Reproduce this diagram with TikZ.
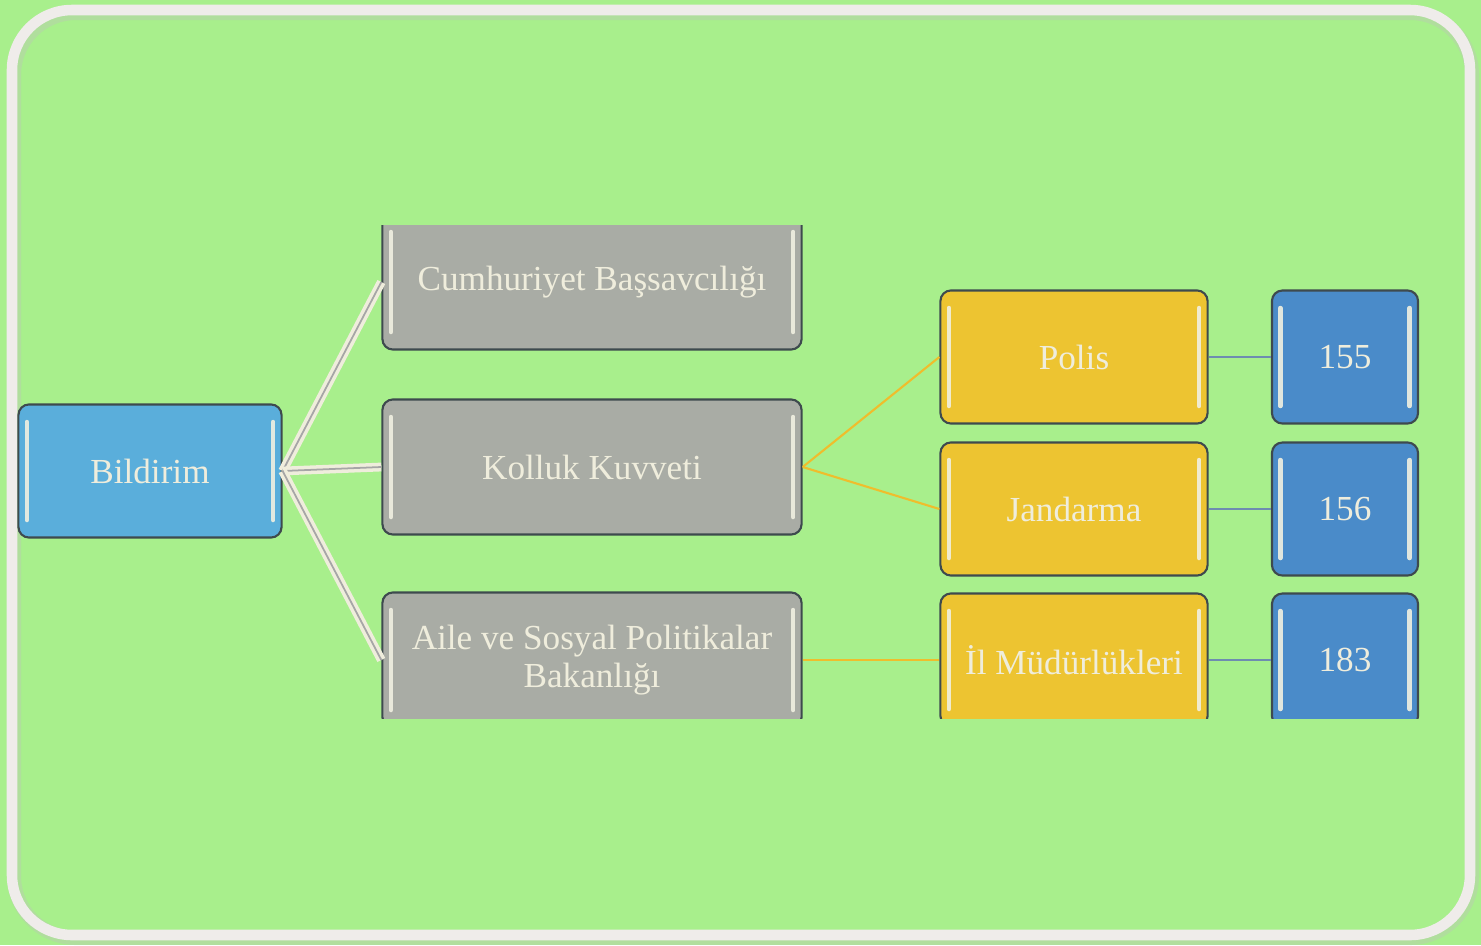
\documentclass[tikz,border=0pt]{standalone}
\usepackage{fontspec}
\setmainfont{Liberation Serif}
\definecolor{bgreen}{HTML}{A8EF8C}
\definecolor{frameW}{HTML}{EFECEA}
\definecolor{skyblue}{HTML}{5AAEDB}
\definecolor{darkblue}{HTML}{4A8BC9}
\definecolor{stone}{HTML}{A9ACA5}
\definecolor{gold}{HTML}{EDC431}
\definecolor{cream}{HTML}{EFEDDC}
\definecolor{edge}{HTML}{3E4A4E}
\definecolor{slate}{HTML}{6E8CB0}
\tikzset{
  box/.style={draw=edge, line width=0.6pt, rounded corners=3pt, text=cream,
    font=\fontsize{10}{11}\selectfont, align=center, inner sep=0pt,
    path picture={
      \draw[gloss] ([xshift=2.4pt,yshift=-5pt]path picture bounding box.north west)
        -- ([xshift=2.4pt,yshift=5pt]path picture bounding box.south west);
      \draw[gloss] ([xshift=-2.4pt,yshift=-5pt]path picture bounding box.north east)
        -- ([xshift=-2.4pt,yshift=5pt]path picture bounding box.south east);
    }},
  gloss/.style={cream!85!white, line width=1.3pt, line cap=round, opacity=0.9},
  bluebox/.style={box, fill=skyblue, minimum width=2.63cm, minimum height=1.33cm},
  graybox/.style={box, fill=stone, minimum width=4.19cm, minimum height=1.35cm},
  goldbox/.style={box, fill=gold, minimum width=2.67cm, minimum height=1.33cm},
  numbox/.style={box, fill=darkblue, minimum width=1.46cm, minimum height=1.33cm},
  paleline/.style={cream, line width=2.5pt},
  paleinner/.style={gray!70, line width=0.5pt},
  goldline/.style={gold!90!orange, line width=0.6pt},
  slateline/.style={slate, line width=0.8pt},
}
\begin{document}
\begin{tikzpicture}[x=0.01cm, y=-0.01cm]
\fill[bgreen] (0,0) rectangle (1481,945);
% frame
\draw[black!25, line width=4pt, opacity=0.35, rounded corners=0.62cm] (14,13) rectangle (1472,938);
\draw[frameW, line width=3pt, rounded corners=0.6cm] (12,10) rectangle (1470,935);

\begin{scope}
\clip (0,225) rectangle (1481,718);
% nodes
\node[bluebox] (bildirim) at (150,471) {Bildirim};
\node[graybox] (savci) at (592,282) {Cumhuriyet Başsavcılığı};
\node[graybox] (kolluk) at (592,467) {Kolluk Kuvveti};
\node[graybox] (aile) at (592,660) {Aile ve Sosyal Politikalar\\Bakanlığı};
\node[goldbox] (polis) at (1074,357) {Polis};
\node[goldbox] (jandarma) at (1074,509) {Jandarma};
\node[goldbox] (ilmud) at (1074,660) {İl Müdürlükleri};
\node[numbox] (n155) at (1345,357) {155};
\node[numbox] (n156) at (1345,509) {156};
\node[numbox] (n183) at (1345,660) {183};

% connectors
\foreach \t in {savci,kolluk,aile} {
  \draw[paleline] (bildirim.east) -- (\t.west);
  \draw[paleinner] (bildirim.east) -- (\t.west);
}
\draw[goldline] (kolluk.east) -- (polis.west);
\draw[goldline] (kolluk.east) -- (jandarma.west);
\draw[goldline] (aile.east) -- (ilmud.west);
\draw[slateline] (polis.east) -- (n155.west);
\draw[slateline] (jandarma.east) -- (n156.west);
\draw[slateline] (ilmud.east) -- (n183.west);
\end{scope}
\end{tikzpicture}
\end{document}
